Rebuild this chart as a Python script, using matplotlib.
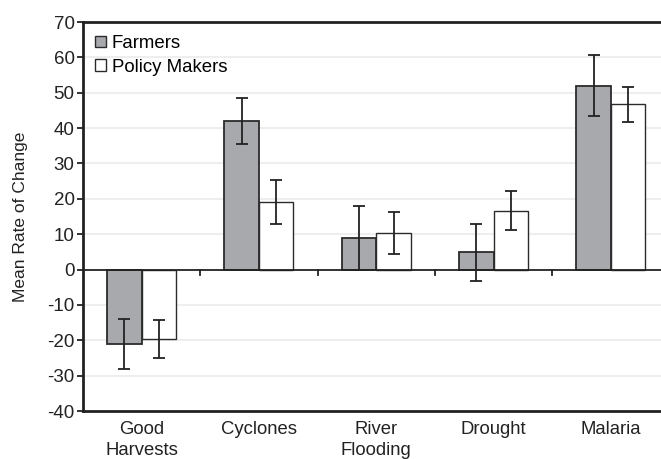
import matplotlib
matplotlib.use("Agg")
import matplotlib.pyplot as plt
import numpy as np
from matplotlib.patches import Patch

categories = ["Good\nHarvests", "Cyclones", "River\nFlooding", "Drought", "Malaria"]
farmers = [-21.0, 41.9, 8.9, 4.9, 52.0]
farmers_err = [7.0, 6.5, 9.1, 8.0, 8.6]
policy = [-19.7, 19.2, 10.4, 16.6, 46.7]
policy_err = [5.3, 6.2, 5.9, 5.5, 4.9]
yticks = [-40, -30, -20, -10, 0, 10, 20, 30, 40, 50, 60, 70]

plt.rcParams['font.family'] = ['Liberation Sans', 'DejaVu Sans']

fig = plt.figure(figsize=(6.61, 4.59), dpi=100)
W, H = 661, 459
left, right, top, bottom = 83, 661, 22, 411
ax = fig.add_axes([left / W, 1 - bottom / H, (right - left) / W, (bottom - top) / H])

cat_w = 117.3
x = np.arange(len(categories))
bw = 34.5 / cat_w
edge = '#2b2b2b'
ax.bar(x - bw / 2, farmers, bw, color='#a8a9ad', edgecolor=edge, linewidth=1.3, zorder=3)
ax.bar(x + bw / 2, policy, bw, color='white', edgecolor=edge, linewidth=1.0, zorder=3)
ax.errorbar(x - bw / 2, farmers, yerr=farmers_err, fmt='none', ecolor='#222222',
            elinewidth=1.3, capsize=4, capthick=1.3, zorder=4)
ax.errorbar(x + bw / 2, policy, yerr=policy_err, fmt='none', ecolor='#222222',
            elinewidth=1.3, capsize=4, capthick=1.3, zorder=4)

ax.set_xlim(-0.5, -0.5 + (right - left) / cat_w)
ax.set_ylim(-40, 70)
ax.set_yticks(yticks)
ax.set_yticklabels([str(v) for v in yticks], fontsize=13.5, color='#222222')
for v in yticks:
    if v not in (0, -40, 70):
        ax.axhline(v, color='#eeeeee', linewidth=1.5, zorder=0)

# zero line with category separator ticks
ax.axhline(0, color='#222222', linewidth=1.3, zorder=5)
for b in np.arange(0.5, len(categories) - 0.5, 1.0):
    ax.plot([b, b], [0, -1.5], color='#222222', linewidth=1.3, zorder=5, clip_on=False)

ax.set_xticks(x)
ax.set_xticklabels(categories, fontsize=13.3, color='#222222', linespacing=1.35)
ax.tick_params(axis='x', length=0, pad=7)
ax.tick_params(axis='y', length=4, width=1.3, color='#222222', pad=2)

for s in ['right']:
    ax.spines[s].set_visible(False)
for s in ['left', 'top', 'bottom']:
    ax.spines[s].set_linewidth(2.0)
    ax.spines[s].set_color('#222222')

ax.set_ylabel("Mean Rate of Change", fontsize=12.5, color='#222222')
ax.yaxis.set_label_coords(-(83 - 28) / (right - left), 0.5)

handles = [Patch(facecolor='#a8a9ad', edgecolor=edge, linewidth=1.0),
           Patch(facecolor='white', edgecolor=edge, linewidth=1.0)]
ax.legend(handles, ["Farmers", "Policy Makers"], loc='upper left', frameon=False,
          fontsize=13.4, handlelength=0.6, handleheight=0.6, handletextpad=0.3,
          labelspacing=0.35, borderaxespad=0.3, bbox_to_anchor=(-0.002, 1.0))

fig.savefig("out.png", dpi=100)
